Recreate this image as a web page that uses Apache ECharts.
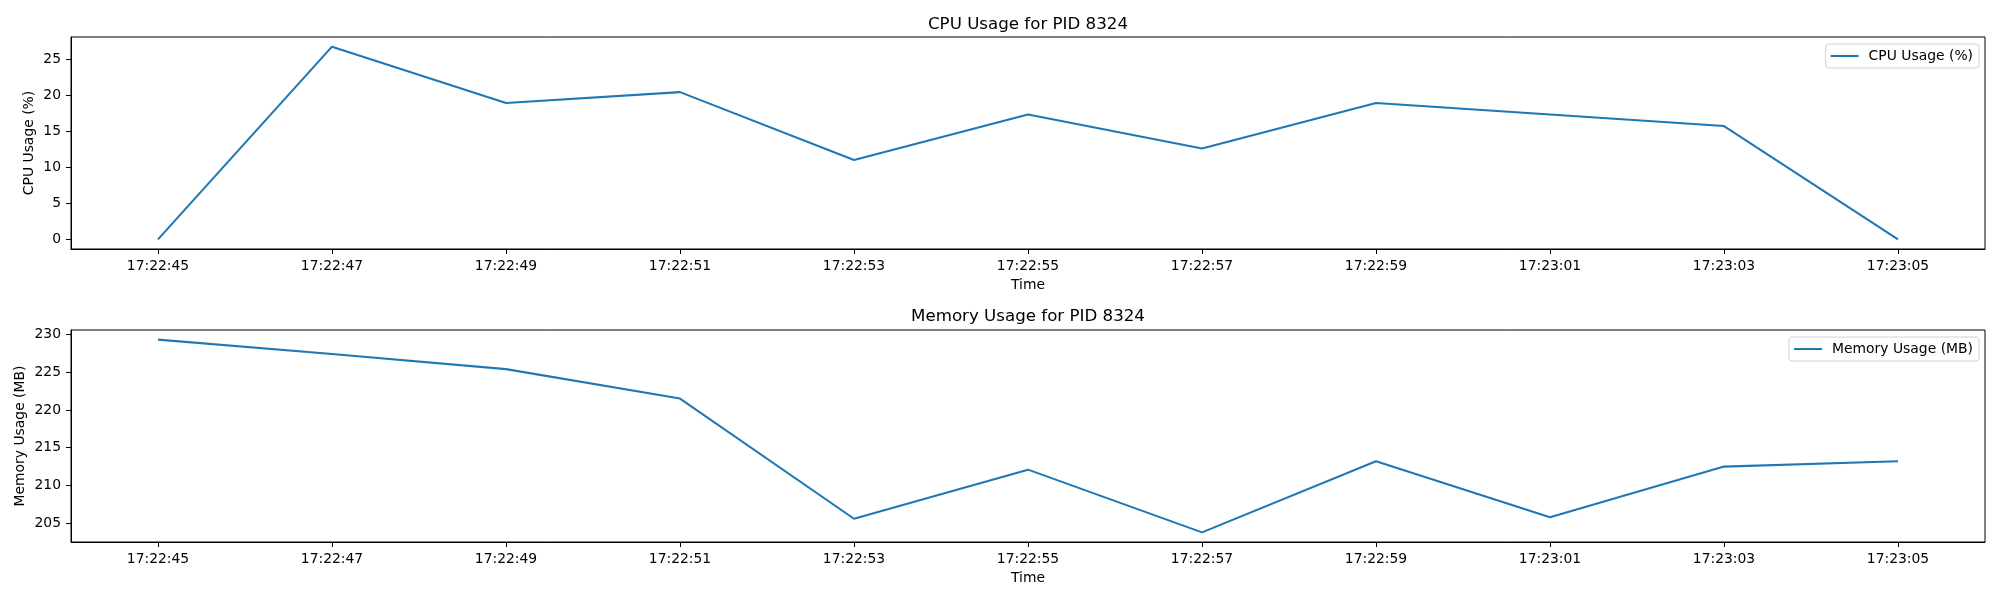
<!DOCTYPE html>
<html>
<head>
<meta charset="utf-8">
<script src="https://cdn.jsdelivr.net/npm/echarts@6/dist/echarts.min.js"></script>
<style>
html,body{margin:0;padding:0;background:#fff;}
#chart{width:2000px;height:600px;}
</style>
</head>
<body>
<div id="chart"></div>
<script>
const times = ['17:22:45','17:22:47','17:22:49','17:22:51','17:22:53','17:22:55','17:22:57','17:22:59','17:23:01','17:23:03','17:23:05'];
const cpuUsage = [0, 26.7, 18.9, 20.4, 11.0, 17.3, 12.6, 18.9, 17.3, 15.7, 0];
const memUsage = [229.3, 227.4, 225.4, 221.5, 205.6, 212.1, 203.8, 213.2, 205.8, 212.5, 213.2];
const cpuTicks = [0, 5, 10, 15, 20, 25];
const memTicks = [205, 210, 215, 220, 225, 230];

const FONT = 'DejaVu Sans';
const FS = 13.9;
const LINE_COLOR = '#1f77b4';

function padMin(v){ return v.min - 0.05 * (v.max - v.min); }
function padMax(v){ return v.max + 0.05 * (v.max - v.min); }

function xAxisFor(gridIndex){
  return {
    type: 'category', gridIndex: gridIndex, data: times, boundaryGap: true,
    name: 'Time', nameLocation: 'middle', nameGap: 29, nameMoveOverlap: false,
    nameTextStyle: {color: '#000', fontFamily: FONT, fontSize: FS},
    axisLine: {show: true, onZero: false, lineStyle: {color: '#000', width: 1}},
    axisTick: {show: true, alignWithLabel: true, interval: 0, length: 5, lineStyle: {color: '#000', width: 1}},
    axisLabel: {interval: 0, margin: 10, color: '#000', fontFamily: FONT, fontSize: FS},
    splitLine: {show: false}
  };
}
function yAxisFor(gridIndex, name, ticks, gap){
  return {
    type: 'value', gridIndex: gridIndex, min: padMin, max: padMax, scale: true,
    name: name, nameLocation: 'middle', nameGap: gap, nameMoveOverlap: false,
    nameTextStyle: {color: '#000', fontFamily: FONT, fontSize: FS},
    axisLine: {show: true, onZero: false, lineStyle: {color: '#000', width: 1}},
    axisTick: {show: true, length: 5, customValues: ticks, lineStyle: {color: '#000', width: 1}},
    axisLabel: {margin: 10, customValues: ticks, color: '#000', fontFamily: FONT, fontSize: FS},
    splitLine: {show: false}
  };
}
function legendFor(name, top){
  return {
    data: [name], right: 21, top: top, orient: 'vertical',
    icon: 'rect', itemWidth: 28, itemHeight: 2,
    padding: [5, 6, 5, 5],
    backgroundColor: 'rgba(255,255,255,0.8)',
    borderColor: '#d0d0d0', borderWidth: 1, borderRadius: 3,
    textStyle: {color: '#000', fontFamily: FONT, fontSize: FS, padding: [0, 0, 0, 5]}
  };
}

const chart = echarts.init(document.getElementById('chart'), null, {renderer: 'canvas'});
chart.setOption({
  animation: false,
  backgroundColor: '#fff',
  title: [
    {text: 'CPU Usage for PID 8324', left: 1028, top: 16, textAlign: 'center', padding: 0,
     textStyle: {color: '#000', fontFamily: FONT, fontSize: 16.67, fontWeight: 'normal'}},
    {text: 'Memory Usage for PID 8324', left: 1028, top: 308, textAlign: 'center', padding: 0,
     textStyle: {color: '#000', fontFamily: FONT, fontSize: 16.67, fontWeight: 'normal'}}
  ],
  legend: [legendFor('CPU Usage (%)', 44), legendFor('Memory Usage (MB)', 337)],
  grid: [
    {left: 71, width: 1914, top: 37, height: 212, show: true, borderColor: '#000', borderWidth: 1, backgroundColor: 'transparent'},
    {left: 71, width: 1914, top: 330, height: 212, show: true, borderColor: '#000', borderWidth: 1, backgroundColor: 'transparent'}
  ],
  xAxis: [xAxisFor(0), xAxisFor(1)],
  yAxis: [yAxisFor(0, 'CPU Usage (%)', cpuTicks, 35), yAxisFor(1, 'Memory Usage (MB)', memTicks, 44)],
  series: [
    {name: 'CPU Usage (%)', type: 'line', xAxisIndex: 0, yAxisIndex: 0, data: cpuUsage,
     showSymbol: false, symbol: 'none', color: LINE_COLOR, lineStyle: {color: LINE_COLOR, width: 2.08}},
    {name: 'Memory Usage (MB)', type: 'line', xAxisIndex: 1, yAxisIndex: 1, data: memUsage,
     showSymbol: false, symbol: 'none', color: LINE_COLOR, lineStyle: {color: LINE_COLOR, width: 2.08}}
  ]
});
</script>
</body>
</html>
